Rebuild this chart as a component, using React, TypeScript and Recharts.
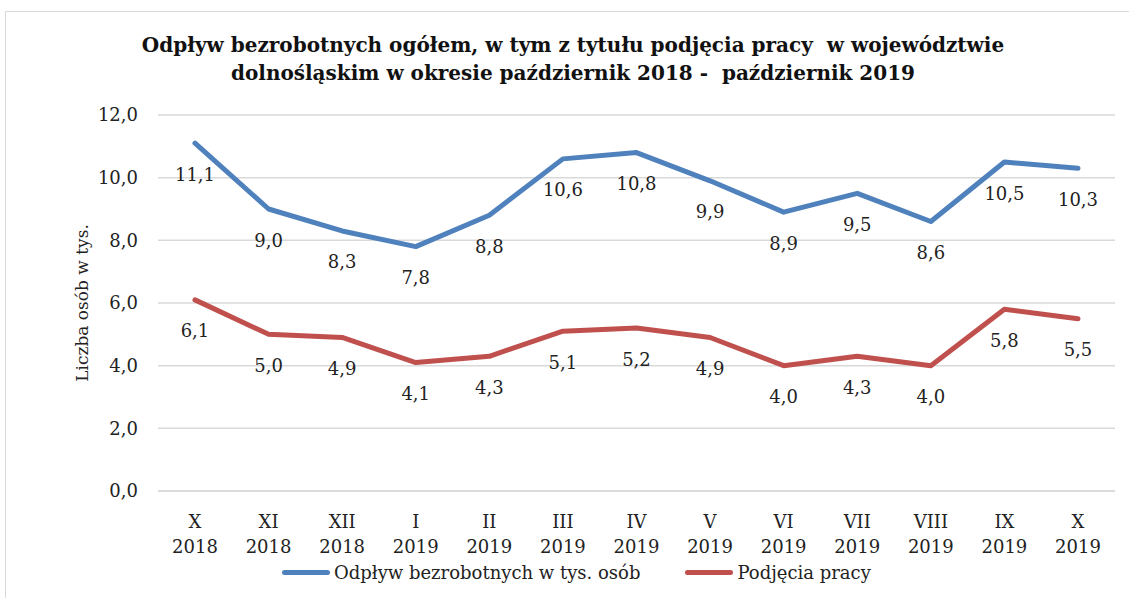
import React from 'react';
import { LineChart, Line, XAxis, YAxis, CartesianGrid, LabelList, Label } from 'recharts';

const months = ['X', 'XI', 'XII', 'I', 'II', 'III', 'IV', 'V', 'VI', 'VII', 'VIII', 'IX', 'X'];
const years = ['2018', '2018', '2018', '2019', '2019', '2019', '2019', '2019', '2019', '2019', '2019', '2019', '2019'];
const outflow = [11.1, 9.0, 8.3, 7.8, 8.8, 10.6, 10.8, 9.9, 8.9, 9.5, 8.6, 10.5, 10.3];
const jobs = [6.1, 5.0, 4.9, 4.1, 4.3, 5.1, 5.2, 4.9, 4.0, 4.3, 4.0, 5.8, 5.5];
const yTicks = [0, 2, 4, 6, 8, 10, 12];

const titleLines = [
  'Odpływ bezrobotnych ogółem, w tym z tytułu podjęcia pracy  w województwie',
  'dolnośląskim w okresie październik 2018 -  październik 2019',
];
const seriesNames = ['Odpływ bezrobotnych w tys. osób', 'Podjęcia pracy'];
const yLabel = 'Liczba osób w tys.';

const BLUE = '#4F81BD';
const RED = '#C0504D';
const FONT = '"DejaVu Serif", serif';

const data = months.map((m, i) => ({ m, y: years[i], key: i, outflow: outflow[i], jobs: jobs[i] }));

const fmt = (v: number) => v.toFixed(1).replace('.', ',');

const XTick = (props: any) => {
  const { x, y, payload } = props;
  const i = payload.value as number;
  return (
    <g>
      <text x={x} y={y + 29} textAnchor="middle" fontFamily={FONT} fontSize={18} fill="#222">{months[i]}</text>
      <text x={x} y={y + 54} textAnchor="middle" fontFamily={FONT} fontSize={18} fill="#222">{years[i]}</text>
    </g>
  );
};

const DataLabel = (props: any) => {
  const { x, y, value } = props;
  return (
    <text x={x} y={y + 31} textAnchor="middle" dominantBaseline="central" fontFamily={FONT} fontSize={18} fill="#222">
      {fmt(value)}
    </text>
  );
};

const YLabel = (props: any) => {
  const vb = props.viewBox;
  const cx = vb.x + 82;
  const cy = vb.y + vb.height / 2;
  return (
    <text x={cx} y={cy} transform={`rotate(-90 ${cx} ${cy})`} textAnchor="middle" dominantBaseline="central" fontFamily={FONT} fontSize={17} fill="#222">
      {yLabel}
    </text>
  );
};

export default function App() {
  return (
    <div style={{ position: 'absolute', left: 0, top: 0, width: 1129, height: 598, background: '#fff', overflow: 'hidden' }}>
      <div style={{ position: 'absolute', left: 5, top: 11, width: 1140, height: 600, border: '1.5px solid #d9d9d9', boxSizing: 'border-box' }} />
      <div style={{ position: 'absolute', left: 5, top: 31, width: 1136, textAlign: 'center', fontFamily: FONT, fontWeight: 'bold', fontSize: 20, lineHeight: '28px', color: '#111', whiteSpace: 'pre' }}>
        {titleLines[0]}
        {'\n'}
        {titleLines[1]}
      </div>
      <div style={{ position: 'absolute', left: 0, top: 0 }}>
        <LineChart width={1129} height={598} data={data} margin={{ top: 115, right: 14, bottom: 0, left: 0 }}>
          <CartesianGrid vertical={false} stroke="#d9d9d9" strokeWidth={1.5} />
          <XAxis dataKey="key" tick={<XTick />} tickLine={false} axisLine={{ stroke: '#d9d9d9', strokeWidth: 1.5 }} height={107} interval={0} padding={{ left: 37, right: 37 }} />
          <YAxis domain={[0, 12]} ticks={yTicks} width={158} tickLine={false} axisLine={false}
            tickFormatter={fmt} tick={{ fontFamily: FONT, fontSize: 18, fill: '#222' }} tickMargin={14}>
            <Label content={<YLabel />} />
          </YAxis>
          <Line type="linear" dataKey="outflow" stroke={BLUE} strokeWidth={5} dot={false} isAnimationActive={false} strokeLinejoin="round" strokeLinecap="round">
            <LabelList dataKey="outflow" content={<DataLabel />} />
          </Line>
          <Line type="linear" dataKey="jobs" stroke={RED} strokeWidth={5} dot={false} isAnimationActive={false} strokeLinejoin="round" strokeLinecap="round">
            <LabelList dataKey="jobs" content={<DataLabel />} />
          </Line>
        </LineChart>
      </div>
      <div style={{ position: 'absolute', left: 282, top: 560, display: 'flex', alignItems: 'center', fontFamily: FONT, fontSize: 18, color: '#222', height: 24 }}>
        <span style={{ display: 'inline-block', width: 48, height: 5, borderRadius: 3, background: BLUE, marginRight: 4 }} />
        <span style={{ marginRight: 45 }}>{seriesNames[0]}</span>
        <span style={{ display: 'inline-block', width: 48, height: 5, borderRadius: 3, background: RED, marginRight: 4 }} />
        <span>{seriesNames[1]}</span>
      </div>
    </div>
  );
}
